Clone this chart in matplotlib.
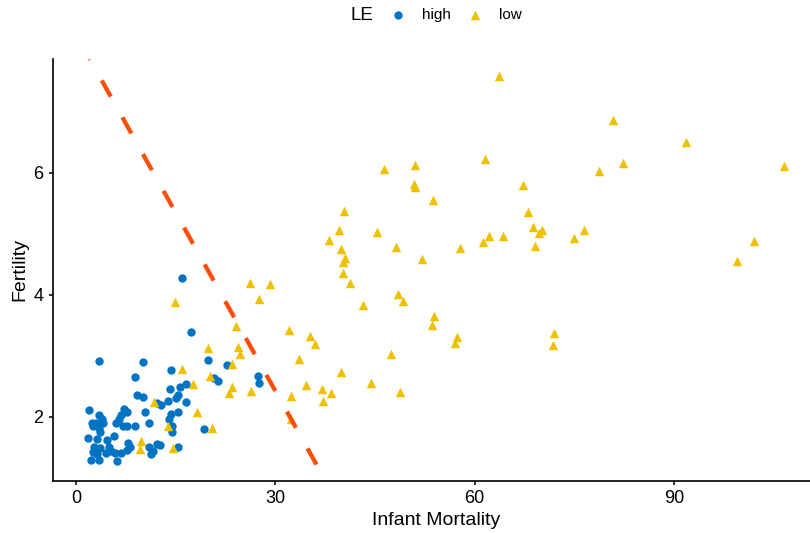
import numpy as np
import matplotlib
matplotlib.use("Agg")
import matplotlib.pyplot as plt

plt.rcParams['font.family'] = ['Liberation Sans', 'DejaVu Sans']

# high life expectancy countries (blue circles)
high_mort = [16.0, 17.3, 3.5, 10.0, 19.8, 14.3, 8.9, 22.7, 20.8, 21.3,
             16.5, 15.7, 14.1, 15.4, 15.1, 9.1, 10.1, 13.8, 12.1, 12.8,
             16.5, 1.9, 7.2, 7.6, 10.4, 15.3, 14.3, 14.0, 3.5, 3.9,
             6.7, 6.4, 2.4, 3.0, 4.1, 6.0, 7.1, 7.6, 8.8, 11.0,
             2.5, 3.4, 3.6, 14.4, 14.4, 5.7, 1.8, 3.2, 4.7, 7.8,
             8.1, 7.6, 2.7, 3.6, 4.9, 5.3, 5.9, 6.8, 2.5, 3.1,
             2.2, 3.5, 4.5, 6.2, 10.9, 12.1, 12.6, 11.6, 11.2, 15.3,
             19.3, 27.4, 27.5]
high_fert = [4.28, 3.39, 2.92, 2.90, 2.93, 2.76, 2.65, 2.84, 2.63, 2.59,
             2.53, 2.49, 2.45, 2.35, 2.31, 2.36, 2.32, 2.25, 2.23, 2.19,
             2.24, 2.11, 2.13, 2.07, 2.07, 2.08, 2.04, 1.96, 2.02, 1.96,
             2.02, 1.97, 1.90, 1.90, 1.90, 1.90, 1.85, 1.85, 1.84, 1.90,
             1.85, 1.81, 1.75, 1.84, 1.75, 1.69, 1.65, 1.63, 1.61, 1.57,
             1.51, 1.46, 1.51, 1.49, 1.51, 1.44, 1.40, 1.40, 1.42, 1.39,
             1.29, 1.29, 1.40, 1.27, 1.51, 1.55, 1.54, 1.43, 1.39, 1.50,
             1.79, 2.66, 2.55]

# low life expectancy countries (yellow triangles)
low_mort = [14.9, 19.9, 15.9, 20.1, 17.6, 11.7, 18.2, 13.8, 20.4, 9.8,
            9.6, 14.6, 26.1, 29.2, 27.5, 24.0, 32.0, 35.2, 36.0, 24.3,
            24.6, 33.6, 23.4, 23.5, 23.0, 26.3, 34.6, 37.0, 37.2, 32.3,
            32.3, 38.1, 46.3, 51.0, 50.8, 51.0, 53.7, 40.4, 39.5, 45.3,
            48.2, 57.8, 39.9, 40.5, 40.2, 52.1, 40.2, 41.2, 48.5, 49.2,
            43.2, 53.9, 53.5, 57.4, 57.0, 47.4, 39.8, 44.4, 38.3, 48.8,
            63.6, 80.8, 91.8, 61.5, 78.7, 82.4, 106.6, 67.2, 68.0, 68.8,
            70.2, 69.7, 62.1, 61.2, 64.3, 69.1, 74.9, 76.5, 102.1, 99.5,
            72.0, 71.8]
low_fert = [3.88, 3.12, 2.78, 2.66, 2.54, 2.24, 2.07, 1.84, 1.82, 1.60,
            1.47, 1.49, 4.19, 4.17, 3.93, 3.48, 3.42, 3.33, 3.19, 3.14,
            3.03, 2.95, 2.87, 2.48, 2.39, 2.42, 2.52, 2.45, 2.26, 2.34,
            1.97, 4.90, 6.07, 6.13, 5.82, 5.77, 5.56, 5.38, 5.07, 5.03,
            4.79, 4.77, 4.75, 4.61, 4.54, 4.58, 4.36, 4.20, 4.01, 3.90,
            3.83, 3.66, 3.50, 3.31, 3.21, 3.03, 2.73, 2.55, 2.39, 2.40,
            7.59, 6.87, 6.51, 6.23, 6.03, 6.17, 6.12, 5.80, 5.36, 5.11,
            5.07, 5.02, 4.97, 4.87, 4.96, 4.80, 4.93, 5.06, 4.88, 4.56,
            3.37, 3.17]

# dashed reference line
line_intercept = 8.27
line_slope = -0.195

xticks = [0, 30, 60, 90]
yticks = [2, 4, 6]
xlim = (-3.44, 111.8)
ylim = (0.949, 7.87)

fig = plt.figure(figsize=(8.1, 5.33), dpi=100)
ax = fig.add_axes([0.0658, 0.0981, 0.945, 0.7912])

ax.scatter(high_mort, high_fert, s=36, marker='o', color='#0073C2',
           linewidths=0, label='high', zorder=3)
ax.scatter(low_mort, low_fert, s=46, marker='^', color='#EFC000',
           linewidths=0, label='low', zorder=3)

# line drawn between where it meets the top and bottom of the panel,
# so the dash pattern starts at the panel edge
ly = np.array([ylim[1], ylim[0]])
lx = (ly - line_intercept) / line_slope
ax.plot(lx, ly, color='#FC4E07', lw=3.1,
        linestyle=(4.07, (4.28, 5.51)), dash_capstyle='butt', zorder=4)

ax.set_xlim(xlim)
ax.set_ylim(ylim)
ax.set_xticks(xticks)
ax.set_yticks(yticks)
ax.tick_params(axis='both', direction='out', length=3, width=1.1,
               labelsize=13, pad=4, colors='black')
for side in ['top', 'right']:
    ax.spines[side].set_visible(False)
for side in ['left', 'bottom']:
    ax.spines[side].set_linewidth(1.2)

ax.set_xlabel('Infant Mortality', fontsize=14, labelpad=3)
ax.set_ylabel('Fertility', fontsize=14, labelpad=4)

fig.text(350 / 810, 1 - 15 / 533, 'LE', fontsize=13.5, ha='left', va='center')
fig.legend(loc='center left', bbox_to_anchor=(390 / 810, 1 - 15 / 533),
           ncol=2, frameon=False, fontsize=11, handlelength=1.0,
           handletextpad=1.07, columnspacing=1.1, borderpad=0,
           borderaxespad=0, scatterpoints=1)

fig.savefig('out.png', dpi=100)
